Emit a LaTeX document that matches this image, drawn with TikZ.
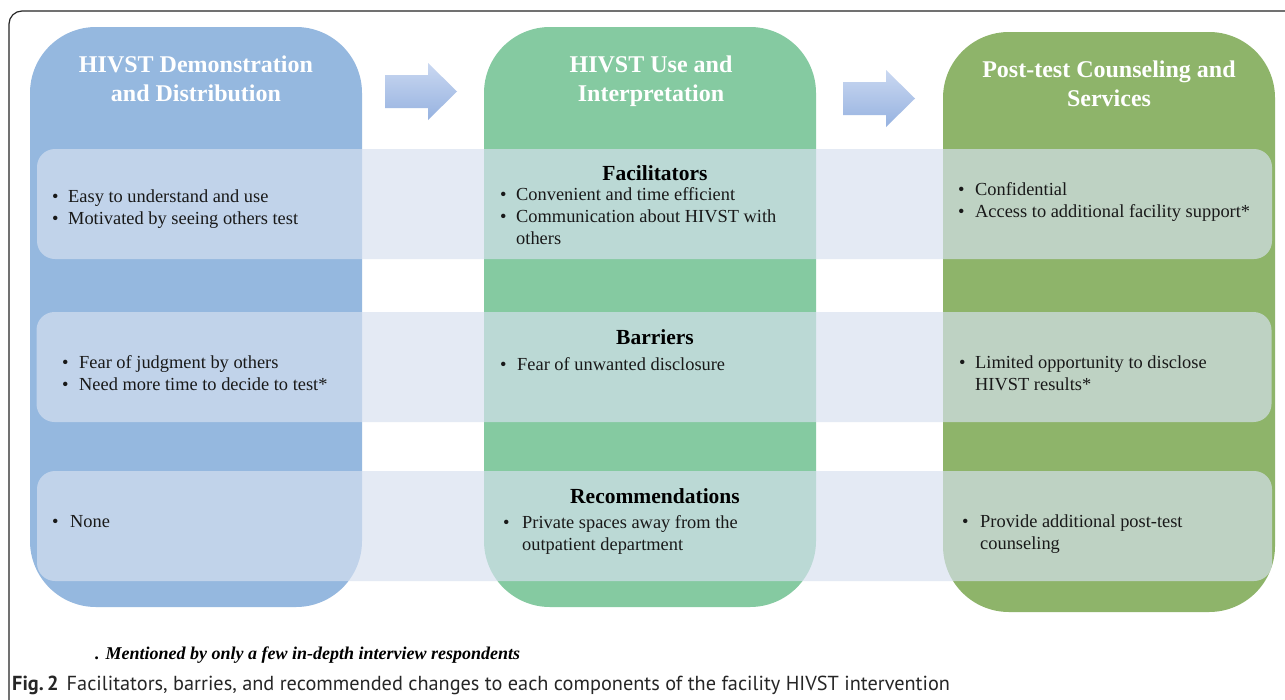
\documentclass[tikz,border=0pt]{standalone}
\usepackage{fontspec}
\setmainfont{Liberation Serif}
\newfontfamily\capfont{PT Sans}

\definecolor{colblue}{RGB}{149,184,223}
\definecolor{colgreen}{RGB}{133,202,161}
\definecolor{cololive}{RGB}{142,180,106}
\definecolor{bandtint}{RGB}{215,225,240}
\definecolor{arrowtop}{RGB}{202,216,241}
\definecolor{arrowbot}{RGB}{150,178,224}

% bullet hung to the left of the text start, #1 = distance in pt
\newcommand{\bul}[1]{\llap{\makebox[#1pt][l]{\textbullet}}}

\tikzset{
  column/.style={draw=none, minimum width=332pt, minimum height=580pt,
    rounded corners=66pt, inner sep=0pt},
  band/.style={draw=none, fill=bandtint, fill opacity=0.67,
    minimum width=1235pt, minimum height=110pt, rounded corners=18pt, inner sep=0pt},
  % anchored at the baseline of the last line
  header/.style={text=white, font=\fontsize{24}{29}\selectfont\bfseries,
    align=center, anchor=base, inner sep=0pt},
  section/.style={text=black, font=\fontsize{21.5}{26}\selectfont\bfseries,
    anchor=base, inner sep=0pt},
  items/.style={text=black!90, font=\fontsize{18.4}{22.3}\selectfont,
    anchor=base west, inner sep=0pt},
  flowarrow/.style={top color=arrowtop, bottom color=arrowbot, draw=none},
}

\begin{document}
\begin{tikzpicture}[x=1pt,y=-1pt]
  \useasboundingbox (0,0) rectangle (1285,699);
  \clip (0,0) rectangle (1285,699);
  \fill[white] (0,0) rectangle (1285,699);

  % outer frame
  \draw[line width=1.2pt, black!85, rounded corners=13pt]
    (9,760) -- (9,11) -- (1340,11);

  % three stage columns
  \node[column, fill=colblue]  (colA) at (196,317) {};
  \node[column, fill=colgreen] (colB) at (650,317) {};
  \node[column, fill=cololive] (colC) at (1109,322) {};

  % arrows between the stages
  \shade[flowarrow] (385,75) -- (428,75) -- (428,63) -- (457,91.5)
    -- (428,120) -- (428,108) -- (385,108) -- cycle;
  \shade[flowarrow] (843,82) -- (886,82) -- (886,70) -- (915,98.5)
    -- (886,127) -- (886,115) -- (843,115) -- cycle;

  % stage titles
  \node[header] (hA) at (196,101) {HIVST Demonstration\\and Distribution};
  \node[header] (hB) at (651,101) {HIVST Use and\\Interpretation};
  \node[header] (hC) at (1109,106) {Post-test Counseling and\\Services};

  % translucent rows
  \node[band] (rowF) at (654.5,204) {};
  \node[band] (rowB) at (654,367) {};
  \node[band] (rowR) at (654.5,526) {};

  % row titles
  \node[section] (tF) at (655,180) {Facilitators};
  \node[section] (tB) at (655,344) {Barriers};
  \node[section] (tR) at (655,503) {Recommendations};

  % facilitators
  \node[items] (fA) at (68,202) {\begin{tabular}[t]{@{}l@{}}
    \bul{16}Easy to understand and use\\
    \bul{16}Motivated by seeing others test\end{tabular}};
  \node[items] (fB) at (516,200) {\begin{tabular}[t]{@{}l@{}}
    \bul{16}Convenient and time efficient\\
    \bul{16}Communication about HIVST with\\
    others\end{tabular}};
  \node[items] (fC) at (975,195) {\begin{tabular}[t]{@{}l@{}}
    \bul{17}Confidential\\
    \bul{17}Access to additional facility support*\end{tabular}};

  % barriers
  \node[items] (bA) at (79,368) {\begin{tabular}[t]{@{}l@{}}
    \bul{17}Fear of judgment by others\\
    \bul{17}Need more time to decide to test*\end{tabular}};
  \node[items] (bB) at (517,370) {\begin{tabular}[t]{@{}l@{}}
    \bul{17}Fear of unwanted disclosure\end{tabular}};
  \node[items] (bC) at (975,368) {\begin{tabular}[t]{@{}l@{}}
    \bul{16}Limited opportunity to disclose\\
    HIVST results*\end{tabular}};

  % recommendations
  \node[items] (rA) at (70,527) {\begin{tabular}[t]{@{}l@{}}
    \bul{18}None\end{tabular}};
  \node[items] (rB) at (522,528) {\begin{tabular}[t]{@{}l@{}}
    \bul{19}Private spaces away from the\\
    outpatient department\end{tabular}};
  \node[items] (rC) at (980,527) {\begin{tabular}[t]{@{}l@{}}
    \bul{18}Provide additional post-test\\
    counseling\end{tabular}};

  % footnote and caption
  \node[anchor=base west, inner sep=0pt, font=\fontsize{18}{21}\selectfont\bfseries\itshape]
    (note) at (95,659) {. Mentioned by only a few in-depth interview respondents};
  \node[anchor=base west, inner sep=0pt, text=black!85, font=\capfont\fontsize{20.3}{24}\selectfont]
    (cap) at (12,690) {\textbf{Fig.\,2}\hspace{8pt}Facilitators, barries, and recommended changes to each components of the facility HIVST intervention};
\end{tikzpicture}
\end{document}
